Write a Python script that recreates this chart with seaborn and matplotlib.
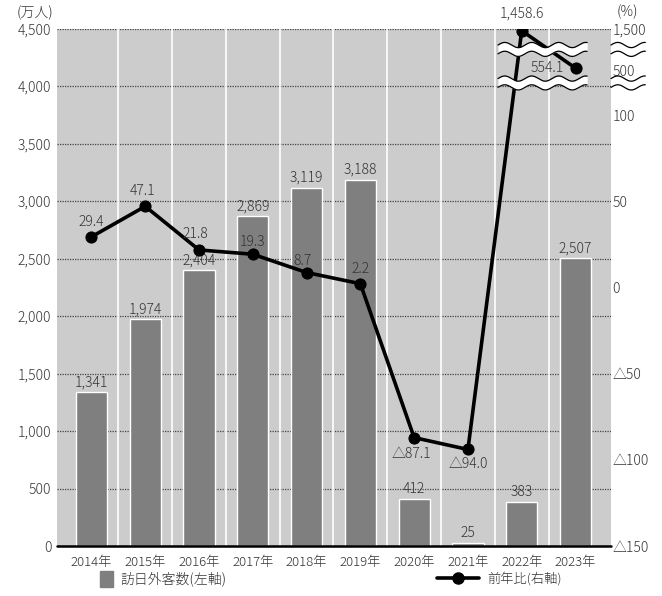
import numpy as np
import matplotlib
matplotlib.use("Agg")
import matplotlib.pyplot as plt
from matplotlib.patches import Patch
from matplotlib.lines import Line2D
from matplotlib.ticker import NullLocator
import seaborn as sns

# ---- data -------------------------------------------------------------
years = ["2014年", "2015年", "2016年", "2017年", "2018年",
         "2019年", "2020年", "2021年", "2022年", "2023年"]
visitors = [1341, 1974, 2404, 2869, 3119, 3188, 412, 25, 383, 2507]   # 万人
yoy = [29.4, 47.1, 21.8, 19.3, 8.7, 2.2, -87.1, -94.0, 1458.6, 554.1]  # %

left_ticks = [0, 500, 1000, 1500, 2000, 2500, 3000, 3500, 4000, 4500]
right_ticks = [-150, -100, -50, 0, 50, 100, 500, 1500]
right_labels = ["△150", "△100", "△50", "0", "50", "100", "500", "1,500"]

# broken right axis: piecewise-linear scale (percent -> left-axis units)
break_pct = [-150, 100, 500, 1500]
break_left = [0, 3750, 4140, 4500]

# ---- style --------------------------------------------------------------
BAR = "#7f7f7f"
BG = "#cccccc"
TXT = "#333333"

sns.set_theme(style="white")
plt.rcParams["font.family"] = ["Noto Sans CJK JP", "DejaVu Sans"]
plt.rcParams["font.weight"] = "light"

fig = plt.figure(figsize=(6.62, 5.96), dpi=100)
ax = fig.add_axes([57 / 662, 50 / 596, 554 / 662, 517 / 596])
ax.set_facecolor(BG)
for s in ax.spines.values():
    s.set_visible(False)

# bars
sns.barplot(x=years, y=visitors, color=BAR, saturation=1, width=0.58,
            ax=ax, zorder=2)
ax.bar_label(ax.containers[0], labels=[f"{v:,}" for v in visitors],
             padding=2, fontsize=10, color=TXT)

# grid and column separators
ax.set_axisbelow(True)
ax.yaxis.grid(True, linestyle=(0, (1, 1)), color="#444444", linewidth=0.9)
for i in range(len(years) - 1):
    ax.axvline(i + 0.5, color="white", linewidth=1.2, zorder=0.6)
ax.axhline(0, color="black", linewidth=1.8, zorder=3, clip_on=False)

ax.set_yticks(left_ticks, labels=[f"{v:,}" for v in left_ticks])
ax.tick_params(axis="y", length=0, pad=4, labelsize=10, labelcolor=TXT)
ax.set_xlabel("")
ax.set_ylabel("")

# ---- right axis: year-on-year change ----------------------------------------
ax2 = ax.twinx()
ax2.set_yscale("function",
               functions=(lambda r: np.interp(r, break_pct, break_left),
                          lambda l: np.interp(l, break_left, break_pct)))
for s in ax2.spines.values():
    s.set_visible(False)

sns.lineplot(x=np.arange(len(years)), y=yoy, ax=ax2, color="black",
             linewidth=2.6, marker="o", markersize=8,
             markeredgecolor="black", sort=False, zorder=4)
ax2.set_ylim(-150, 1500)
ax2.set_yticks(right_ticks, labels=right_labels)
ax2.yaxis.set_minor_locator(NullLocator())
ax2.tick_params(axis="y", length=0, pad=1, labelsize=10, labelcolor=TXT)
ax2.set_ylabel("")
ax2.set_xlabel("")


def pct_label(v):
    if v < 0:
        return f"△{abs(v):.1f}"
    return f"{v:,.1f}"


label_offsets = [(0, 15), (-3, 15), (-4, 16), (0, 12), (-4, 12),
                 (0, 15), (-3, -16), (0, -15), (0, 17), (-12, 0)]
for i, (v, (dx, dy)) in enumerate(zip(yoy, label_offsets)):
    ha = "right" if dx < -10 else "center"
    ax2.annotate(pct_label(v), (i, v), xytext=(dx, dy),
                 textcoords="offset pixels", ha=ha, va="center",
                 fontsize=10, color=TXT, zorder=6, annotation_clip=False)

# ---- axis-break marks ------------------------------------------------------
period, amp, half = 27 / 554, 2.6 / 517, 4.4 / 517
for yc in (0.9605, 0.8956):
    xs = np.linspace(0.796, 0.957, 200)
    wave = amp * np.sin(2 * np.pi * (xs - 0.796) / period)
    ax2.fill_between(xs, yc - half + wave, yc + half + wave,
                     transform=ax2.transAxes, color="white", lw=0, zorder=5)
    ax2.plot(xs, yc + half + wave, transform=ax2.transAxes,
             color="black", lw=0.9, zorder=5.5)
    ax2.plot(xs, yc - half + wave, transform=ax2.transAxes,
             color="black", lw=0.9, zorder=5.5)
    xr = np.linspace(1.0, 1.062, 100)
    wr = amp * np.sin(2 * np.pi * (xr - 1.0) / period)
    for off in (half, -half):
        ax2.plot(xr, yc + off + wr, transform=ax2.transAxes, color="black",
                 lw=0.9, clip_on=False, zorder=5.5)

# x axis (shared) final settings
ax.set_xlim(-0.64, 9.66)
ax.set_ylim(0, 4500)
ax.set_xticks(range(len(years)), labels=years)
ax.tick_params(axis="x", length=0, pad=7, labelsize=9.5, labelcolor=TXT)

# unit captions
fig.text(53 / 662, 1 - 13 / 596, "(万人)", ha="right", va="center",
         fontsize=10, color=TXT)
fig.text(617 / 662, 1 - 12 / 596, "(%)", ha="left", va="center",
         fontsize=10, color=TXT)

# legends
fig.legend(handles=[Patch(color=BAR)], labels=["訪日外客数(左軸)"],
           loc="center left", bbox_to_anchor=(100 / 662, 1 - 579 / 596),
           frameon=False, handlelength=0.9, handleheight=1.3,
           handletextpad=0.6, borderpad=0, borderaxespad=0,
           fontsize=10, labelcolor=TXT)
fig.legend(handles=[Line2D([], [], color="black", lw=2.6, marker="o",
                           markersize=8)],
           labels=["前年比(右軸)"], loc="center left",
           bbox_to_anchor=(437 / 662, 1 - 579 / 596), frameon=False,
           handlelength=3.2, handletextpad=0.6, borderpad=0,
           borderaxespad=0, fontsize=9.5, labelcolor=TXT)

fig.savefig("out.png", dpi=100)
